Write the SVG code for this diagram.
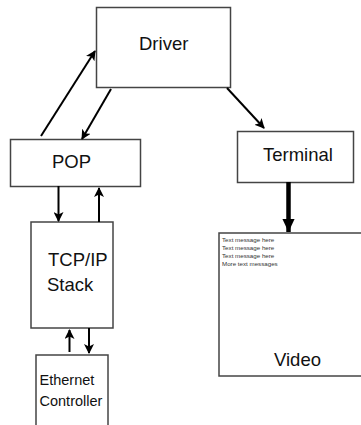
<svg xmlns="http://www.w3.org/2000/svg" width="361" height="425" viewBox="0 0 361 425">
<style>
.box{fill:#fff;stroke:#444;stroke-width:1.5}
.lbl{font-family:"Liberation Sans",Arial,sans-serif;font-size:18.5px;fill:#111}
.sm{font-family:"Liberation Sans",Arial,sans-serif;font-size:14.5px;fill:#111}
.tiny{font-family:"Liberation Sans",Arial,sans-serif;font-size:6.2px;fill:#333}
.ln{stroke:#000;stroke-width:2;fill:none;marker-end:url(#ah)}
</style>
<defs>
<marker id="ah" viewBox="0 0 10 10" refX="9" refY="5" markerWidth="5" markerHeight="5" orient="auto" markerUnits="strokeWidth">
<path d="M0,0 L10,5 L0,10 L2.5,5 z" fill="#000"/>
</marker>
<marker id="ahb" viewBox="0 0 10 10" refX="10" refY="5" markerWidth="3" markerHeight="2.8" orient="auto" markerUnits="strokeWidth" preserveAspectRatio="none">
<path d="M0,0 L10,5 L0,10 z" fill="#000"/>
</marker>
</defs>
<rect width="361" height="425" fill="#fff"/>
<g id="driver"><rect class="box" x="96.5" y="7.5" width="134" height="80" stroke="#222"/><text class="lbl" x="139" y="50">Driver</text></g>
<g id="pop"><rect class="box" x="10.5" y="139.5" width="130" height="47"/><text class="lbl" x="52" y="168">POP</text></g>
<g id="terminal"><rect class="box" x="237.5" y="131.5" width="116" height="51"/><text class="lbl" x="263" y="161">Terminal</text></g>
<g id="tcpip"><rect class="box" x="31" y="222" width="82" height="106"/><text class="lbl" x="48" y="266">TCP/IP</text><text class="lbl" x="47" y="291">Stack</text></g>
<g id="ethernet"><rect class="box" x="36" y="355" width="72" height="80"/><text class="sm" x="39.5" y="385">Ethernet</text><text class="sm" x="39.5" y="406">Controller</text></g>
<g id="video"><rect class="box" x="219" y="233" width="150" height="143"/>
<text class="tiny" x="222" y="242">Text message here</text>
<text class="tiny" x="222" y="250">Text message here</text>
<text class="tiny" x="222" y="258">Text message here</text>
<text class="tiny" x="222" y="266">More text messages</text>
<text class="lbl" x="274" y="366">Video</text></g>
<g id="connectors">
<line class="ln" x1="41" y1="136" x2="95" y2="51"/>
<line class="ln" x1="111" y1="89" x2="82" y2="139"/>
<line class="ln" x1="227" y1="88" x2="264" y2="128"/>
<line class="ln" x1="58.5" y1="186" x2="58.5" y2="221"/>
<line class="ln" x1="99" y1="222" x2="99" y2="188"/>
<line class="ln" x1="69.5" y1="352" x2="69.5" y2="330"/>
<line class="ln" x1="89" y1="328" x2="89" y2="353"/>
<line x1="288.5" y1="182" x2="288.5" y2="232" stroke="#000" stroke-width="4.5" marker-end="url(#ahb)"/>
</g>
</svg>
